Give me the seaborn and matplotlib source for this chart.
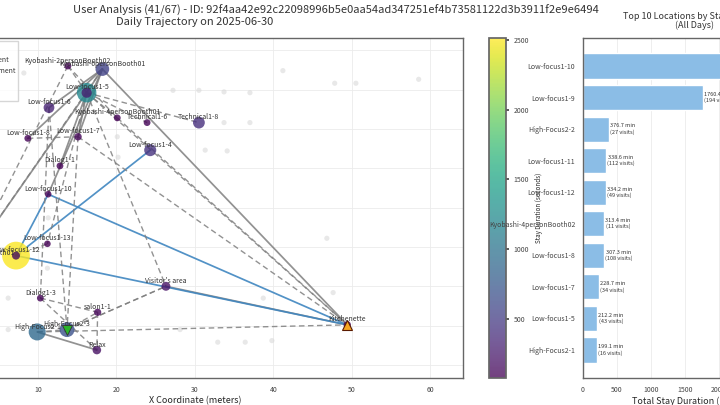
import numpy as np
import pandas as pd
import seaborn as sns
import matplotlib.pyplot as plt
from matplotlib.lines import Line2D
from matplotlib.colors import Normalize

# locations visited on this day (meters)
loc_names = ["Kyobashi-2personBooth02", "Kyobashi-6personBooth01", "Low-focus1-5", "Low-focus1-6",
             "Kyobashi-4personBooth01", "Technical1-6", "Technical1-8", "Low-focus1-8", "Low-focus1-7",
             "Dialog1-1", "Low-focus1-4", "Low-focus1-10", "Low-focus1-13", "Low-focus1-12",
             "Visitor's area", "Dialog1-3", "salon1-1", "High-Focus2-1", "High-Focus2-3", "Relax",
             "Kitchenette", "Kyobashi-1personBooth01"]
loc_x = [13.8, 18.2, 16.2, 11.4, 20.1, 23.9, 30.5, 8.7, 15.1, 12.8, 24.3, 11.3, 11.2, 7.2,
         26.3, 10.3, 17.6, 9.9, 13.7, 17.5, 49.4, 1.5]
loc_y = [38.0, 37.6, 34.6, 32.7, 31.4, 30.8, 30.8, 28.8, 29.0, 25.3, 27.3, 21.7, 15.4, 13.9,
         10.0, 8.5, 6.7, 4.2, 4.5, 1.9, 5.1, 13.6]

# each stay: where and how long (seconds)
visit_locs = ["Kyobashi-2personBooth02", "Kyobashi-6personBooth01", "Low-focus1-5", "Low-focus1-5",
              "Low-focus1-6", "Kyobashi-4personBooth01", "Technical1-6", "Technical1-8", "Low-focus1-8",
              "Low-focus1-7", "Dialog1-1", "Low-focus1-4", "Low-focus1-10", "Low-focus1-13",
              "Low-focus1-12", "Low-focus1-12", "Visitor's area", "Dialog1-3", "salon1-1",
              "High-Focus2-1", "High-Focus2-3", "Relax", "Kitchenette", "Kyobashi-1personBooth01"]
visit_secs = [100, 560, 1200, 280, 320, 90, 90, 400, 90, 120, 90, 420, 80, 80,
              2500, 150, 200, 90, 110, 900, 680, 180, 120, 300]

# moves between locations: walk = solid, gap = dashed, recent = blue
move_from = ["Kyobashi-6personBooth01", "Kyobashi-6personBooth01", "Kyobashi-6personBooth01",
             "Kyobashi-6personBooth01", "Kyobashi-6personBooth01", "Kyobashi-6personBooth01",
             "High-Focus2-1", "Visitor's area", "Low-focus1-5", "Low-focus1-5", "Kyobashi-1personBooth01",
             "Low-focus1-12", "Low-focus1-10", "Low-focus1-12", "Low-focus1-12",
             "Low-focus1-5", "Kyobashi-4personBooth01", "Low-focus1-7", "Low-focus1-5", "Low-focus1-5",
             "Low-focus1-5", "Kyobashi-2personBooth02", "Kyobashi-2personBooth02", "Kyobashi-2personBooth02",
             "Low-focus1-5", "Low-focus1-7", "Low-focus1-6", "Dialog1-3", "Dialog1-3", "High-Focus2-3",
             "salon1-1", "High-Focus2-1", "High-Focus2-3", "High-Focus2-3", "High-Focus2-1",
             "Low-focus1-12", "Low-focus1-5", "Low-focus1-6", "Kyobashi-6personBooth01", "Low-focus1-8"]
move_to = ["Kitchenette", "Low-focus1-6", "Low-focus1-5", "Low-focus1-10", "Low-focus1-7", "Low-focus1-8",
           "Relax", "Kitchenette", "Low-focus1-7", "Dialog1-1", "Low-focus1-5",
           "Low-focus1-10", "Kitchenette", "Low-focus1-4", "Kitchenette",
           "Kitchenette", "Kitchenette", "Kitchenette", "Technical1-8", "Technical1-6",
           "Kyobashi-4personBooth01", "Kyobashi-4personBooth01", "Low-focus1-5", "Kyobashi-1personBooth01",
           "Visitor's area", "High-Focus2-3", "Dialog1-3", "salon1-1", "Relax", "salon1-1",
           "Relax", "High-Focus2-3", "Visitor's area", "Visitor's area", "Kitchenette",
           "Low-focus1-13", "Low-focus1-13", "High-Focus2-3", "Kyobashi-1personBooth01", "Low-focus1-7"]
move_kind = ["walk"] * 11 + ["recent"] * 4 + ["gap"] * 25

# every known location point in the building
bg_x = [8.2, 41.2, 47.8, 50.5, 58.5, 33.7, 37.0, 27.2, 30.5, 33.7, 37.0, 20.1, 20.2, 31.3, 34.1,
        11.3, 46.8, 11.2, 6.2, 38.7, 47.6, 6.2, 28.1, 32.9, 36.4, 39.8]
bg_y = [37.1, 37.4, 35.8, 35.8, 36.3, 34.7, 34.6, 34.9, 34.9, 30.8, 30.8, 29.0, 26.4, 27.3, 27.2,
        18.7, 16.1, 12.3, 8.5, 8.5, 9.2, 4.5, 4.5, 2.9, 2.9, 3.1]

# top 10 locations over all days
top_names = ["Low-focus1-10", "Low-focus1-9", "High-Focus2-2", "Low-focus1-11", "Low-focus1-12",
             "Kyobashi-4personBooth02", "Low-focus1-8", "Low-focus1-7", "Low-focus1-5", "High-Focus2-1"]
top_minutes = [3137.0, 1760.4, 376.7, 338.6, 334.2, 313.4, 307.3, 228.7, 212.2, 199.1]
top_visits = [260, 194, 27, 112, 49, 11, 108, 34, 43, 16]

sns.set_theme(style="white")
plt.rcParams['font.family'] = ['Noto Sans CJK JP', 'DejaVu Sans']
plt.rcParams['text.color'] = '#333333'

fig = plt.figure(figsize=(7.2, 4.05), dpi=100)
ax = fig.add_axes([-0.1014, 0.0667, 0.7444, 0.8395])
cax = fig.add_axes([0.679, 0.0667, 0.0236, 0.8395])
ax2 = fig.add_axes([0.8097, 0.0667, 0.311, 0.8395])

pos = dict(zip(loc_names, zip(loc_x, loc_y)))

# background points
sns.scatterplot(x=bg_x, y=bg_y, color='#d9d9d9', s=14, alpha=0.6, edgecolor='none', ax=ax, zorder=1)

# movement lines
styles = {"walk": dict(color='#7f7f7f', lw=1.25, ls='-', alpha=0.85),
          "gap": dict(color='#7f7f7f', lw=1.0, ls=(0, (4, 2.5)), alpha=0.85),
          "recent": dict(color='#3f86c0', lw=1.25, ls='-', alpha=0.9)}
for a, b, k in zip(move_from, move_to, move_kind):
    xa, ya = pos[a]
    xb, yb = pos[b]
    ax.plot([xa, xb], [ya, yb], zorder=2, **styles[k])

# stays coloured and sized by duration
vmin, vmax = 74, 2515
visits = pd.DataFrame({'loc': visit_locs, 'dur': visit_secs})
visits['x'] = [pos[l][0] for l in visit_locs]
visits['y'] = [pos[l][1] for l in visit_locs]
visits = visits.sort_values('dur', ascending=False)
sns.scatterplot(data=visits, x='x', y='y', hue='dur', palette='viridis', hue_norm=(vmin, vmax),
                size='dur', sizes=(10, 400), size_norm=(0, 2500), alpha=0.8, edgecolor='none',
                legend=False, ax=ax, zorder=3)

# start / end
sx, sy = pos["High-Focus2-3"]
ex, ey = pos["Kitchenette"]
ax.plot(sx, sy, marker='v', ms=7, color='#2bb52b', mec='#333333', mew=0.6, zorder=4, ls='none')
ax.plot(ex, ey, marker='^', ms=7, color='#f5a623', mec='#5a1a00', mew=0.8, zorder=4, ls='none')

for n, x, y in zip(loc_names, loc_x, loc_y):
    ax.annotate(n, (x, y), xytext=(0, 1), textcoords='offset points', ha='center', va='bottom',
                fontsize=5, color='#333333', zorder=5)

ax.set_xticks(np.arange(0, 70, 10))
ax.set_yticks(np.arange(0, 45, 5))
ax.set_xlim(-4.14, 64.14)
ax.set_ylim(-1.65, 41.55)
ax.grid(True, color='#ebebeb', lw=0.6)
ax.tick_params(labelsize=5, colors='#444444', length=2)
ax.set_xlabel('X Coordinate (meters)', fontsize=6.5, labelpad=2)
ax.set_ylabel('Y Coordinate (meters)', fontsize=6.5)
ax.set_title('Daily Trajectory on 2025-06-30', fontsize=8, pad=9)
for s in ax.spines.values():
    s.set_color('#666666')
    s.set_linewidth(1.0)

handles = [Line2D([], [], marker='o', ls='none', color='#7b5aa6', ms=4, label='Stay'),
           Line2D([], [], color='#7f7f7f', lw=1.2, label='Direct movement'),
           Line2D([], [], color='#7f7f7f', lw=1.0, ls=(0, (4, 2.5)), label='Delayed movement'),
           Line2D([], [], marker='v', ls='none', color='#2bb52b', ms=4, label='Start'),
           Line2D([], [], marker='^', ls='none', color='#f5a623', ms=4, label='End')]
leg = ax.legend(handles=handles, loc='upper left', fontsize=5, frameon=True, fancybox=False)
leg.get_frame().set_edgecolor('#cccccc')

# colorbar
sm = plt.cm.ScalarMappable(norm=Normalize(vmin, vmax), cmap='viridis')
cb = fig.colorbar(sm, cax=cax, alpha=0.75)
cb.set_ticks([500, 1000, 1500, 2000, 2500])
cb.ax.tick_params(labelsize=5, colors='#444444', length=2)
cb.set_label('Stay Duration (seconds)', fontsize=4.5)
cb.outline.set_edgecolor('#666666')

# right: top locations
sns.barplot(x=top_minutes, y=top_names, orient='h', color='#8bbde6', saturation=1, width=0.8, ax=ax2)
ax2.set_xticks([0, 500, 1000, 1500, 2000, 2500, 3000])
ax2.set_ylim(9.89, -0.89)
ax2.set_xlim(0, max(top_minutes) * 1.05)
for i, (m, v) in enumerate(zip(top_minutes, top_visits)):
    ax2.text(m + 15, i, f'{m:.1f} min\n({v} visits)', fontsize=4, va='center', ha='left',
             multialignment='center', color='#333333')
ax2.grid(axis='x', color='#ebebeb', lw=0.6)
ax2.set_axisbelow(True)
ax2.tick_params(labelsize=5, colors='#444444', length=2)
ax2.set_xlabel('Total Stay Duration (minutes)', fontsize=6.5, labelpad=2)
ax2.set_title('Top 10 Locations by Stay Duration\n(All Days)', fontsize=6.5, pad=7, linespacing=0.95)
for s in ax2.spines.values():
    s.set_color('#666666')
    s.set_linewidth(1.0)

fig.text(0.467, 0.975, 'User Analysis (41/67) - ID: 92f4aa42e92c22098996b5e0aa54ad347251ef4b73581122d3b3911f2e9e6494',
         ha='center', va='center', fontsize=8)

fig.savefig('out.png', dpi=100)
